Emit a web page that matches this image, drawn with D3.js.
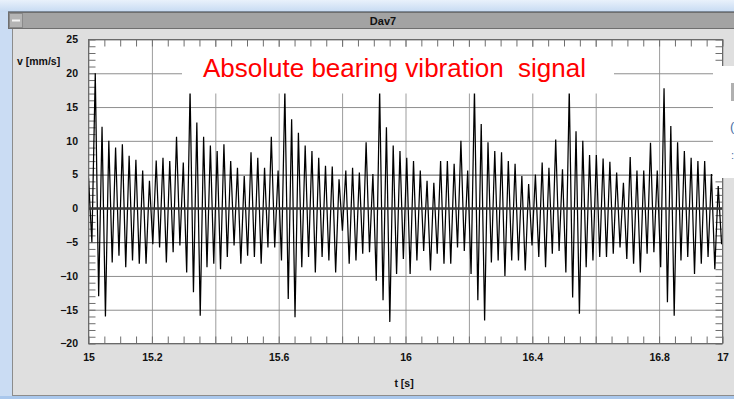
<!DOCTYPE html>
<html>
<head>
<meta charset="utf-8">
<script src="https://cdn.jsdelivr.net/npm/d3@7/dist/d3.min.js"></script>
<style>
  html, body { margin: 0; padding: 0; background: #dfdfdf; }
  svg { display: block; }
  text { font-family: "Liberation Sans", Arial, sans-serif; }
</style>
</head>
<body>
<svg id="chart" width="734" height="399"></svg>
<script>
// ---------- data ----------
const windowTitle = "Dav7";
const chartTitle = "Absolute bearing vibration\u00A0\u00A0signal";
const yLabel = "v [mm/s]";
const xLabel = "t [s]";
const xTickValues = [15, 15.2, 15.6, 16, 16.4, 16.8, 17];
const xTickLabels = ["15", "15.2", "15.6", "16", "16.4", "16.8", "17"];
const yTickValues = [25, 20, 15, 10, 5, 0, -5, -10, -15, -20];
const tStart = 15.0;      // time of first sample [s]
const tStep = 0.01068;    // spacing between successive extrema [s]
// successive peaks / troughs of the velocity signal [mm/s]
const signal = [
  4.5, -5, 20, -13, 12.1, -16, 10, -8, 9, -7, 9.5, -8.7, 7.8, -7.7, 7.2, -8.2, 5.6, -8.2, 4.1, -5.3,
  7.1, -5.8, 7.5, -8, 7, -6.5, 10.6, -5.5, 6.8, -9.5,
  17.5, -12.4, 12.7, -15.9, 10.6, -8.7, 9.3, -8.2, 8.5, -9, 9.5, -7.2, 7, -5.5, 6, -8.2, 4.8, -7,
  8.3, -7.2, 7.5, -8.2, 6, -5.8, 10.6, -5.8, 5.6, -7.7,
  17.5, -13.4, 13.2, -16.1, 11.2, -8.7, 9.3, -7.2, 8.5, -9.5, 7.5, -7.2, 6.3, -7.7, 6.2, -9.5, 4.3, -3.3,
  5.6, -8.2, 6, -7.7, 5.3, -6.7, 9.8, -6.5, 5.1, -10.7,
  17.5, -13.6, 12, -16.8, 9.3, -9.7, 8.5, -7.5, 7.5, -9.7, 7, -7.7, 5.6, -6.3, 4.1, -9.2, 3.8, -6.7,
  7, -8.2, 7, -8.2, 6.6, -5.8, 10, -6.3, 5.6, -9.7,
  17.5, -13.6, 12.5, -16.6, 9.8, -8, 8.5, -7.7, 8.3, -10, 7, -7.7, 6.6, -7.7, 4.8, -9.2, 3.6, -5.5,
  5, -7.2, 6.8, -8.7, 6, -6.7, 10.2, -6.3, 5.8, -9.5,
  17.5, -13.2, 11.4, -15.6, 10, -8.7, 7.9, -7.7, 7.9, -7.2, 7.4, -7.2, 6.9, -6.7, 5.3, -5.8, 3.8, -7.5,
  7.6, -8.2, 5.6, -9.5, 5.6, -6.7, 9.7, -6.5, 5.6, -8.7,
  17.8, -13.9, 12.2, -15.9, 9.8, -7.7, 8.5, -7.2, 7.5, -9.7, 7, -8.2, 7, -7.2, 5.1, -9, 3.3, -5.3
];

// ---------- layout ----------
const W = 734, H = 399;
const plot = { left: 88.5, right: 722.5, top: 39.5, bottom: 343.5 };
const x = d3.scaleLinear().domain([15, 17]).range([plot.left, plot.right]);
const y = d3.scaleLinear().domain([-20, 25]).range([plot.bottom, plot.top]);

const svg = d3.select("#chart");
const defs = svg.append("defs");
const g1 = defs.append("linearGradient").attr("id", "topGrad").attr("x1", 0).attr("y1", 0).attr("x2", 0).attr("y2", 1);
g1.append("stop").attr("offset", "0%").attr("stop-color", "#e9f1fb");
g1.append("stop").attr("offset", "100%").attr("stop-color", "#c6daf2");
defs.append("clipPath").attr("id", "plotClip").append("rect")
  .attr("x", plot.left).attr("y", plot.top)
  .attr("width", plot.right - plot.left).attr("height", plot.bottom - plot.top);

// desktop / frame
svg.append("rect").attr("x", 0).attr("y", 0).attr("width", W).attr("height", H).attr("fill", "#cadcf3");
svg.append("rect").attr("x", 0).attr("y", 0).attr("width", W).attr("height", 12).attr("fill", "url(#topGrad)");
svg.append("line").attr("x1", 8).attr("x2", W).attr("y1", 11.5).attr("y2", 11.5).attr("stroke", "#7d8a99");
// window body
svg.append("rect").attr("x", 12.5).attr("y", 28.5).attr("width", W - 12).attr("height", 367)
  .attr("fill", "#dfdfdf").attr("stroke", "#8c8c8c");
svg.append("rect").attr("x", 0).attr("y", 396).attr("width", W).attr("height", 3).attr("fill", "#a9c7ec");
// title bar
svg.append("rect").attr("x", 8.5).attr("y", 12.5).attr("width", W - 8).attr("height", 16)
  .attr("fill", "#a3a3a3").attr("stroke", "#6f6f6f");
svg.append("rect").attr("x", 9.5).attr("y", 13.5).attr("width", 13).attr("height", 14)
  .attr("fill", "#b4b4b4").attr("stroke", "#8a8a8a");
svg.append("line").attr("x1", 12).attr("x2", 20).attr("y1", 20.5).attr("y2", 20.5).attr("stroke", "#f4f4f4").attr("stroke-width", 2);
svg.append("text").attr("x", 383).attr("y", 24.5).attr("text-anchor", "middle")
  .attr("font-size", 11).attr("font-weight", "bold").attr("fill", "#111").text(windowTitle);

// plot background
svg.append("rect").attr("x", plot.left).attr("y", plot.top)
  .attr("width", plot.right - plot.left).attr("height", plot.bottom - plot.top).attr("fill", "#fff");

// grid lines
const gridX = svg.append("g").attr("transform", `translate(0,${plot.bottom})`)
  .call(d3.axisBottom(x).ticks(10).tickSize(-(plot.bottom - plot.top)).tickFormat(""));
gridX.select(".domain").remove();
gridX.selectAll("line").attr("stroke", "#9c9c9c");
const gridY = svg.append("g").attr("transform", `translate(${plot.left},0)`)
  .call(d3.axisLeft(y).ticks(9).tickSize(-(plot.right - plot.left)).tickFormat(""));
gridY.select(".domain").remove();
gridY.selectAll("line").attr("stroke", d => (Math.abs(d) === 5 ? "#5a5a5a" : "#8e8e8e"));

// minor ticks (inside, all four sides)
function minor(axisGen, tx, ty) {
  const g = svg.append("g").attr("transform", `translate(${tx},${ty})`).call(axisGen);
  g.select(".domain").remove();
  g.selectAll("line").attr("stroke", "#6e6e6e");
  return g;
}
minor(d3.axisBottom(x).ticks(40).tickSize(-7).tickFormat(""), 0, plot.bottom);
minor(d3.axisTop(x).ticks(40).tickSize(-7).tickFormat(""), 0, plot.top);
minor(d3.axisLeft(y).ticks(45).tickSize(-7).tickFormat(""), plot.left, 0);
minor(d3.axisRight(y).ticks(45).tickSize(-7).tickFormat(""), plot.right, 0);

// signal
const line = d3.line().x((d, i) => x(tStart + i * tStep)).y(d => y(d));
svg.append("path").datum(signal).attr("clip-path", "url(#plotClip)")
  .attr("d", line).attr("fill", "none").attr("stroke", "#000").attr("stroke-width", 1.25)
  .attr("stroke-linejoin", "miter");

// zero line
svg.append("line").attr("x1", plot.left).attr("x2", plot.right)
  .attr("y1", y(0)).attr("y2", y(0)).attr("stroke", "#3a3a3a").attr("stroke-width", 2.5);

// title box
svg.append("rect").attr("x", 182).attr("y", 47).attr("width", 432).attr("height", 46.5).attr("fill", "#fff");
svg.append("text").attr("x", 203).attr("y", 77).attr("font-size", 26).attr("fill", "#ff0000")
  .attr("xml:space", "preserve").text(chartTitle);

// plot border
svg.append("rect").attr("x", plot.left).attr("y", plot.top)
  .attr("width", plot.right - plot.left).attr("height", plot.bottom - plot.top)
  .attr("fill", "none").attr("stroke", "#6a6a6a");

// axis labels (tick text)
const yAx = svg.append("g").attr("transform", `translate(${plot.left},0)`)
  .call(d3.axisLeft(y).tickValues(yTickValues).tickSize(0).tickPadding(10.5).tickFormat(d3.format("d")));
yAx.select(".domain").remove();
yAx.selectAll("text").attr("font-size", 10.5).attr("font-weight", "bold").attr("fill", "#111")
  .attr("font-family", "'Liberation Sans', Arial, sans-serif");
const xAx = svg.append("g").attr("transform", `translate(0,${plot.bottom})`)
  .call(d3.axisBottom(x).tickValues(xTickValues).tickSize(0).tickPadding(10.5)
    .tickFormat((d, i) => xTickLabels[i]));
xAx.select(".domain").remove();
xAx.selectAll("text").attr("font-size", 10.5).attr("font-weight", "bold").attr("fill", "#111")
  .attr("font-family", "'Liberation Sans', Arial, sans-serif");

svg.append("text").attr("x", 17).attr("y", 65).attr("font-size", 10.5).attr("font-weight", "bold")
  .attr("fill", "#111").text(yLabel);
svg.append("text").attr("x", 404).attr("y", 387).attr("text-anchor", "middle").attr("font-size", 10.5)
  .attr("font-weight", "bold").attr("fill", "#111").text(xLabel);

// overlapping popup at right edge
svg.append("rect").attr("x", 713).attr("y", 66).attr("width", 21).attr("height", 112).attr("fill", "#fff");
svg.append("rect").attr("x", 731).attr("y", 83).attr("width", 3).attr("height", 18).attr("fill", "#b0b0b0");
svg.append("text").attr("x", 730).attr("y", 131).attr("font-size", 13).attr("fill", "#4a6fa5").text("(");
svg.append("text").attr("x", 731).attr("y", 159).attr("font-size", 11).attr("fill", "#4a6fa5").text(":");
</script>
</body>
</html>
